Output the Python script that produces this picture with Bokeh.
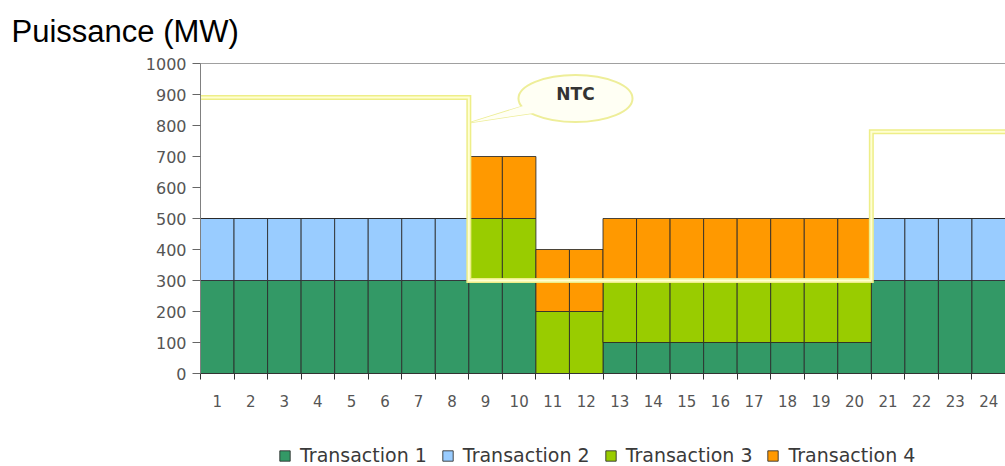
from bokeh.plotting import figure
from bokeh.models import (FixedTicker, Legend, LegendItem, Range1d, Label,
                          ColumnDataSource)
from bokeh.embed import file_html
from bokeh.resources import INLINE

# ---------------- data ----------------
hours = [1, 2, 3, 4, 5, 6, 7, 8, 9, 10, 11, 12, 13, 14, 15, 16, 17, 18, 19, 20, 21, 22, 23, 24]
hour_labels = ["1", "2", "3", "4", "5", "6", "7", "8", "9", "10", "11", "12",
               "13", "14", "15", "16", "17", "18", "19", "20", "21", "22", "23", "24"]
transaction_1 = [300, 300, 300, 300, 300, 300, 300, 300, 300, 300, 0, 0,
                 100, 100, 100, 100, 100, 100, 100, 100, 300, 300, 300, 300]
transaction_2 = [200, 200, 200, 200, 200, 200, 200, 200, 0, 0, 0, 0,
                 0, 0, 0, 0, 0, 0, 0, 0, 200, 200, 200, 200]
transaction_3 = [0, 0, 0, 0, 0, 0, 0, 0, 200, 200, 200, 200,
                 200, 200, 200, 200, 200, 200, 200, 200, 0, 0, 0, 0]
transaction_4 = [0, 0, 0, 0, 0, 0, 0, 0, 200, 200, 200, 200,
                 200, 200, 200, 200, 200, 200, 200, 200, 0, 0, 0, 0]
ntc = [890, 890, 890, 890, 890, 890, 890, 890, 300, 300, 300, 300,
       300, 300, 300, 300, 300, 300, 300, 300, 780, 780, 780, 780]
series_names = ["Transaction 1", "Transaction 2", "Transaction 3", "Transaction 4"]
y_ticks = [0, 100, 200, 300, 400, 500, 600, 700, 800, 900, 1000]
y_min, y_max = 0, 1000
ntc_label = "NTC"
title_text = "Puissance (MW)"

colors = ["#339966", "#99CCFF", "#99CC00", "#FF9900"]
TICK_FONT = "DejaVu Sans"

# ---------------- layout geometry (pixels) ----------------
W, H = 1005, 466
plot_left, plot_right = 200, 1005     # pixel positions of hour 0.5 and 24.5
plot_top, plot_bottom = 63, 373       # pixel positions of 1000 and 0 MW
x_lo, x_hi = hours[0] - 0.5, hours[-1] + 0.5
px_per_x = (plot_right - plot_left) / (x_hi - x_lo)
px_per_y = (plot_bottom - plot_top) / (y_max - y_min)

# the frame covers the whole canvas; axes are placed at fixed locations inside it
p = figure(width=W, height=H, output_backend="svg", toolbar_location=None, title=None,
           x_range=Range1d(x_lo - plot_left / px_per_x, x_hi + (W - plot_right) / px_per_x),
           y_range=Range1d(y_min - (H - plot_bottom) / px_per_y, y_max + plot_top / px_per_y),
           min_border_left=0, min_border_right=0, min_border_top=0, min_border_bottom=0)
p.outline_line_color = None
p.xgrid.visible = False
p.ygrid.visible = False
p.background_fill_color = "white"
p.border_fill_color = "white"

src = ColumnDataSource(dict(hour=hours, t1=transaction_1, t2=transaction_2,
                            t3=transaction_3, t4=transaction_4))
renderers = p.vbar_stack(["t1", "t2", "t3", "t4"], x="hour", width=1.0, source=src,
                         fill_color=colors, line_color="#2a2a2a", line_width=1,
                         line_alpha=0.85)

# NTC step line
x_edges = [h - 0.5 for h in hours] + [hours[-1] + 0.5]
y_edges = ntc + [ntc[-1]]
p.step(x_edges, y_edges, mode="after", line_color="#EEEE88", line_width=5, line_join="miter")
p.step(x_edges, y_edges, mode="after", line_color="#FFFFD2", line_width=2, line_join="miter")

# top frame line of the plot area
p.segment(x0=[x_lo], y0=[y_max], x1=[x_hi], y1=[y_max], line_color="#a0a0a0", line_width=1)

# NTC callout
cx, cy = 11.68, 887
tail_x = [8.55, 10.19, 10.55]
tail_y = [810, 865, 842]
p.patch(tail_x, tail_y, fill_color="#FFFFF4", line_color="#EEEE99", line_width=1.5)
p.ellipse(x=[cx], y=[cy], width=3.4, height=152, fill_color="#FFFFF4",
          line_color="#EEEE99", line_width=2)
p.patch(tail_x, tail_y, fill_color="#FFFFF4", line_color=None)
p.add_layout(Label(x=cx, y=cy + 14, text=ntc_label, text_align="center", text_baseline="middle",
                   text_font=TICK_FONT, text_font_style="bold",
                   text_font_size="17px", text_color="#333333"))

# title
p.add_layout(Label(x=11, y=H - 31, x_units="screen", y_units="screen", text=title_text,
                   text_align="left", text_baseline="alphabetic",
                   text_font="Liberation Sans", text_font_size="31px", text_color="#000000"))

# axes
p.xaxis.fixed_location = y_min
p.xaxis.bounds = (x_lo, x_hi)
p.xaxis.ticker = FixedTicker(ticks=hours, minor_ticks=x_edges)
p.xaxis.major_label_overrides = {h: lab for h, lab in zip(hours, hour_labels)}
p.xaxis.major_tick_out = 0
p.xaxis.major_tick_in = 0
p.xaxis.minor_tick_out = 6
p.xaxis.minor_tick_in = 0
p.xaxis.minor_tick_line_color = "#333333"
p.xaxis.axis_line_color = "#333333"
p.xaxis.major_label_standoff = 15
p.xaxis.major_label_text_font = TICK_FONT
p.xaxis.major_label_text_font_size = "15px"
p.xaxis.major_label_text_color = "#555555"

p.yaxis.fixed_location = x_lo
p.yaxis.bounds = (y_min, y_max)
p.yaxis.ticker = FixedTicker(ticks=y_ticks)
p.yaxis.major_tick_out = 8
p.yaxis.major_tick_in = 0
p.yaxis.minor_tick_line_color = None
p.yaxis.major_tick_line_color = "#666666"
p.yaxis.axis_line_color = "#808080"
p.yaxis.major_label_standoff = 6
p.yaxis.major_label_text_font = TICK_FONT
p.yaxis.major_label_text_font_size = "16px"
p.yaxis.major_label_text_color = "#555555"

# legend
items = [LegendItem(label=n, renderers=[r]) for n, r in zip(series_names, renderers)]
legend = Legend(items=items, orientation="horizontal", location=(278, 0),
                glyph_width=13, glyph_height=13, label_standoff=9, spacing=14,
                padding=0, margin=0, border_line_color=None, background_fill_alpha=0,
                label_text_font=TICK_FONT, label_text_font_size="19px",
                label_text_color="#3a3a3a", label_height=18)
p.add_layout(legend, "center")

open("out.html", "w").write(file_html(p, INLINE))
